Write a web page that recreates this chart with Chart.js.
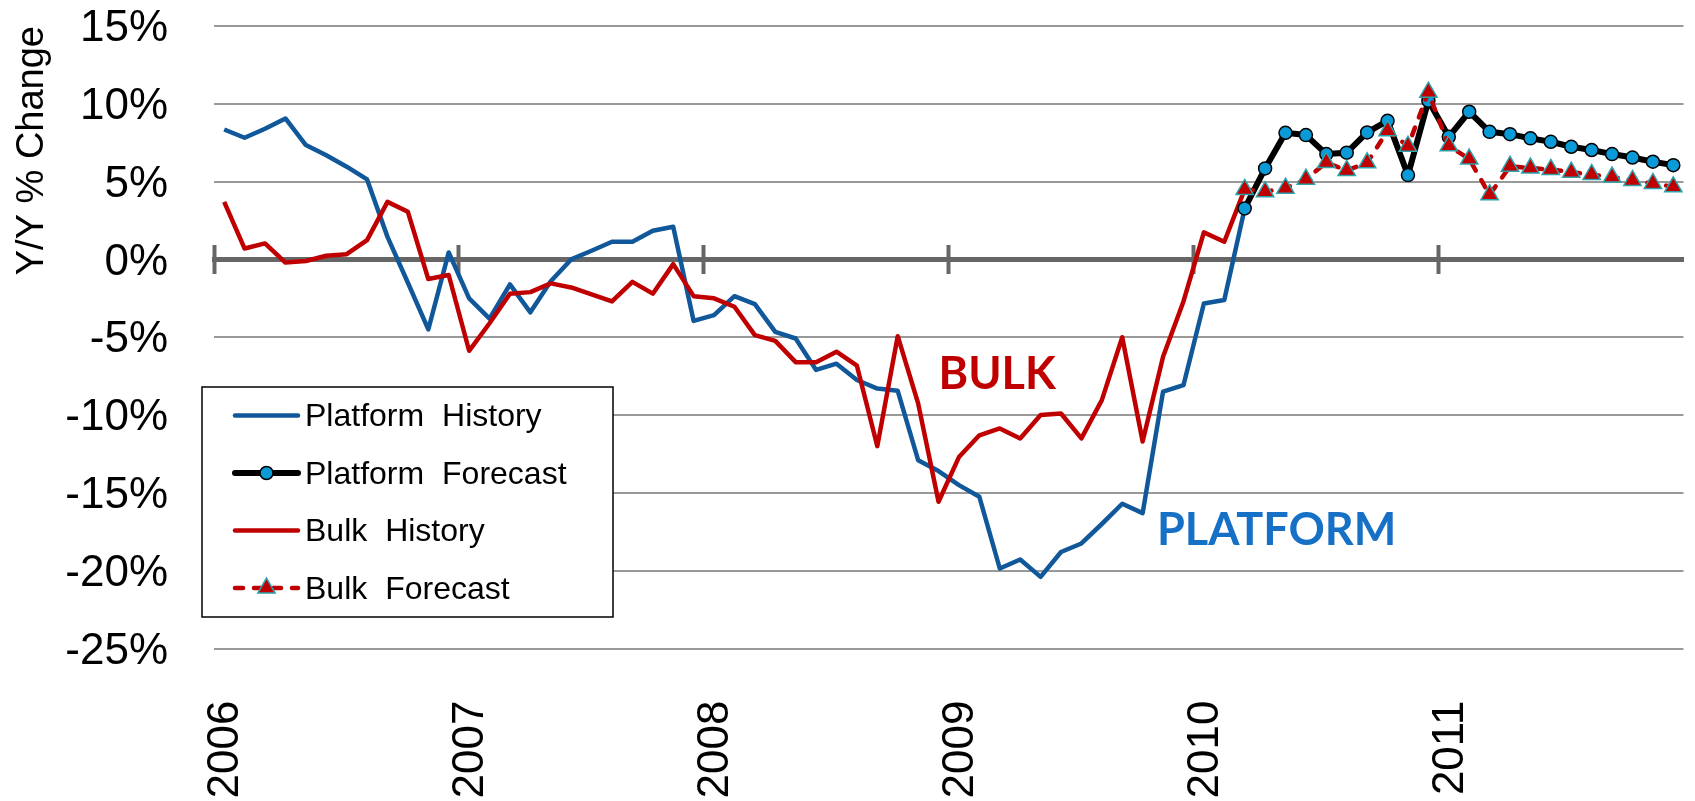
<!DOCTYPE html>
<html>
<head>
<meta charset="utf-8">
<title>Platform vs Bulk - Y/Y % Change</title>
<script src="https://cdn.jsdelivr.net/npm/chart.js@4.4.1/dist/chart.umd.min.js"></script>
<style>
  html, body { margin: 0; padding: 0; background: #fff; }
  #wrap { width: 1695px; height: 801px; }
</style>
</head>
<body>
<div id="wrap"><canvas id="yoy" width="1695" height="801"></canvas></div>
<script>
// Year tick labels, one every 12 months from Jan 2006
var years = ['2006', '2007', '2008', '2009', '2010', '2011'];

// Monthly Y/Y % change, Jan 2006 .. Mar 2010
var platformHistory = [8.35, 7.82, 8.4, 9.06, 7.35, 6.7, 5.96, 5.14, 1.45, -1.5, -4.5, 0.45,
  -2.5, -3.8, -1.6, -3.4, -1.4, 0.0, 0.56, 1.14, 1.14, 1.84, 2.1, -3.95,
  -3.58, -2.36, -2.87, -4.65, -5.08, -7.1, -6.7, -7.75, -8.3, -8.44, -12.9, -13.6,
  -14.5, -15.25, -19.86, -19.28, -20.4, -18.8, -18.25, -17.0, -15.7, -16.3, -8.5, -8.08,
  -2.83, -2.61, 3.28];
var bulkHistory = [3.7, 0.7, 1.03, -0.2, -0.1, 0.24, 0.34, 1.24, 3.7, 3.06, -1.26, -1.0,
  -5.87, -4.1, -2.2, -2.1, -1.54, -1.8, -2.25, -2.7, -1.44, -2.2, -0.3, -2.36,
  -2.5, -3.04, -4.86, -5.23, -6.6, -6.6, -5.93, -6.83, -12.0, -4.93, -9.25, -15.57,
  -12.7, -11.3, -10.86, -11.5, -10.0, -9.9, -11.5, -9.04, -5.0, -11.7, -6.25, -2.7,
  1.74, 1.14, 4.5];

// Forecast, Mar 2010 .. Dec 2011
var forecastStart = 50; // month index of Mar 2010
var platformForecast = [3.28, 5.85, 8.14, 7.99, 6.77, 6.86, 8.16, 8.91, 5.42, 10.2,
  7.88, 9.49, 8.2, 8.05, 7.78, 7.56, 7.24, 7.03, 6.77, 6.55, 6.28, 6.06];
var bulkForecast = [4.5, 4.35, 4.58, 5.16, 6.23, 5.72, 6.21, 8.27, 7.28, 10.75,
  7.3, 6.45, 4.16, 5.98, 5.87, 5.78, 5.61, 5.46, 5.29, 5.08, 4.88, 4.67];

// points sit in the middle of their month
function toPoints(values, start) {
  return values.map(function (v, i) { return { x: start + i + 0.5, y: v }; });
}

function yearTicks(axis) {
  axis.ticks = years.map(function (y, i) { return { value: i * 12 }; });
}

Chart.defaults.font.family = "'Liberation Sans', Arial, Helvetica, sans-serif";
Chart.defaults.color = '#000';

// legend in a white box with a black frame, drawn over the grid
var boxedLegend = {
  id: 'boxedLegend',
  afterDatasetsDraw: function (chart) {
    var ctx = chart.ctx;
    var left = 202, top = 387, width = 411, height = 230;
    var sampleLeft = left + 33, sampleWidth = 63, textLeft = left + 103;
    ctx.save();
    ctx.fillStyle = '#fff';
    ctx.fillRect(left, top, width, height);
    ctx.lineWidth = 1.5;
    ctx.strokeStyle = '#000';
    ctx.strokeRect(left, top, width, height);

    chart.data.datasets.forEach(function (ds, i) {
      var y = top + 28.5 + i * 57.5;
      var cx = sampleLeft + sampleWidth / 2;
      ctx.beginPath();
      ctx.setLineDash(ds.borderDash || []);
      ctx.lineCap = ds.borderCapStyle || 'round';
      ctx.lineWidth = ds.borderWidth;
      ctx.strokeStyle = ds.borderColor;
      ctx.moveTo(sampleLeft, y);
      ctx.lineTo(sampleLeft + sampleWidth, y);
      ctx.stroke();
      ctx.setLineDash([]);

      if (ds.pointRadius > 0) {
        var r = ds.pointRadius;
        ctx.beginPath();
        if (ds.pointStyle === 'triangle') {
          ctx.moveTo(cx, y - r);
          ctx.lineTo(cx + 0.866 * r, y + 0.5 * r);
          ctx.lineTo(cx - 0.866 * r, y + 0.5 * r);
          ctx.closePath();
        } else {
          ctx.arc(cx, y, r, 0, Math.PI * 2);
        }
        ctx.fillStyle = ds.pointBackgroundColor;
        ctx.fill();
        ctx.lineWidth = ds.pointBorderWidth;
        ctx.strokeStyle = ds.pointBorderColor;
        ctx.stroke();
      }

      ctx.fillStyle = '#000';
      ctx.font = "32px 'Liberation Sans', Arial, sans-serif";
      ctx.wordSpacing = '9px';
      ctx.textBaseline = 'middle';
      ctx.textAlign = 'left';
      ctx.fillText(ds.label, textLeft, y + 2);
    });
    ctx.restore();
  }
};

// BULK / PLATFORM call-outs, anchored to the data scales
var seriesNames = {
  id: 'seriesNames',
  afterDatasetsDraw: function (chart) {
    var ctx = chart.ctx, xs = chart.scales.x, ys = chart.scales.y;
    ctx.save();
    ctx.font = "bold 45px Lato, 'Open Sans', sans-serif";
    ctx.textBaseline = 'alphabetic';
    ctx.textAlign = 'left';
    ctx.fillStyle = '#C00000';
    ctx.fillText('BULK', xs.getPixelForValue(35.5), ys.getPixelForValue(-8.35));
    ctx.fillStyle = '#1570C6';
    ctx.fillText('PLATFORM', xs.getPixelForValue(46.2), ys.getPixelForValue(-18.35));
    ctx.restore();
  }
};

var ctx = document.getElementById('yoy').getContext('2d');
var yoyChart = new Chart(ctx, {
  type: 'line',
  data: {
    datasets: [{
      label: 'Platform History',
      data: toPoints(platformHistory, 0),
      borderColor: '#10589A',
      borderWidth: 4.5,
      pointRadius: 0,
      order: 4
    }, {
      label: 'Platform Forecast',
      data: toPoints(platformForecast, forecastStart),
      borderColor: '#000',
      borderWidth: 6,
      pointStyle: 'circle',
      pointRadius: 6.5,
      pointBackgroundColor: '#0A9AD8',
      pointBorderColor: '#000',
      pointBorderWidth: 1.5,
      order: 2
    }, {
      label: 'Bulk History',
      data: toPoints(bulkHistory, 0),
      borderColor: '#C00000',
      borderWidth: 4.5,
      pointRadius: 0,
      order: 3
    }, {
      label: 'Bulk Forecast',
      data: toPoints(bulkForecast, forecastStart),
      borderColor: '#C00000',
      borderWidth: 4.5,
      borderDash: [8, 11],
      borderCapStyle: 'round',
      pointStyle: 'triangle',
      pointRadius: 10,
      pointBackgroundColor: '#C00000',
      pointBorderColor: '#2BA3AD',
      pointBorderWidth: 1.5,
      order: 1
    }]
  },
  options: {
    responsive: false,
    animation: false,
    devicePixelRatio: 1,
    layout: { padding: { top: 26, right: 0, bottom: 0, left: 0 } },
    elements: { line: { tension: 0, borderJoinStyle: 'round' } },
    plugins: {
      legend: { display: false },
      tooltip: { enabled: false }
    },
    scales: {
      x: {
        type: 'linear',
        position: 'bottom',
        min: 0,
        max: 72,
        afterBuildTicks: yearTicks,
        afterFit: function (axis) { axis.height = 152.5; },
        grid: { display: false, drawTicks: false },
        border: { display: false },
        ticks: {
          autoSkip: false,
          minRotation: 90,
          maxRotation: 90,
          padding: 52,
          labelOffset: 12,
          font: { size: 44 },
          callback: function (v) { return years[v / 12]; }
        }
      },
      // zero line with year tick marks (below half)
      xZero: {
        type: 'linear',
        axis: 'x',
        position: { y: 0 },
        min: 0,
        max: 72,
        afterBuildTicks: yearTicks,
        ticks: { display: false },
        grid: { drawOnChartArea: false, drawTicks: true, tickLength: 12, tickWidth: 4, tickColor: '#666' },
        border: { display: true, width: 5, color: '#666' }
      },
      // upper half of the year tick marks
      xZeroUp: {
        type: 'linear',
        axis: 'x',
        position: { y: 0 },
        min: 0,
        max: 72,
        afterBuildTicks: yearTicks,
        ticks: { display: false },
        grid: { drawOnChartArea: false, drawTicks: true, tickLength: -14, tickWidth: 4, tickColor: '#666' },
        border: { display: false }
      },
      y: {
        type: 'linear',
        position: 'left',
        min: -25,
        max: 15,
        afterFit: function (axis) {
          axis.width = 214;
          axis.paddingTop = 0;
          axis.paddingBottom = 0;
        },
        grid: { color: '#999', lineWidth: 2, drawTicks: true, tickLength: 46, tickColor: 'rgba(0,0,0,0)' },
        border: { display: false },
        ticks: {
          stepSize: 5,
          padding: 0,
          labelOffset: 3,
          font: { size: 44 },
          callback: function (v) { return v + '%'; }
        },
        title: {
          display: true,
          text: 'Y/Y % Change',
          align: 'end',
          font: { size: 38 },
          padding: { top: 10, bottom: 0 }
        }
      }
    }
  },
  plugins: [boxedLegend, seriesNames]
});
</script>
</body>
</html>
